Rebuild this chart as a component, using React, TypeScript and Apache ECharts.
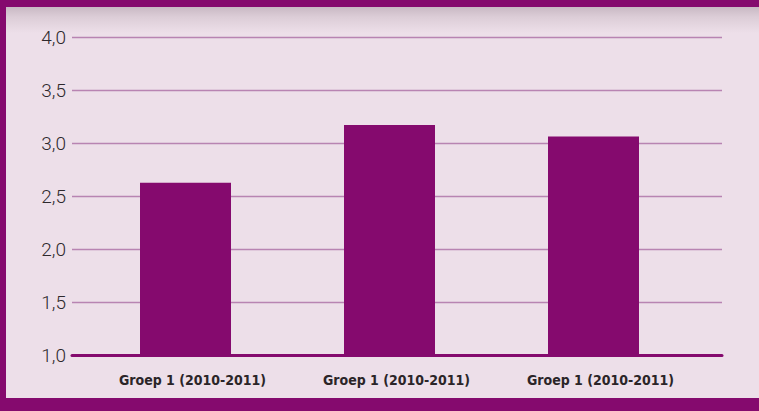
import React, { useEffect, useRef } from "react";
import * as echarts from "echarts";

const categories = ["Groep 1 (2010-2011)", "Groep 1 (2010-2011)", "Groep 1 (2010-2011)"];
const values = [2.63, 3.175, 3.065];
const yTicks = { min: 1, max: 4, interval: 0.5 };

const PURPLE = "#850A6E";
const BG = "#EDDFE9";

export default function App() {
  const ref = useRef<HTMLDivElement>(null);
  useEffect(() => {
    if (!ref.current) return;
    const chart = echarts.init(ref.current, null, { renderer: "svg" });
    chart.setOption({
      animation: false,
      grid: [
        { left: 72, right: 37, top: 37.5, bottom: 55.5, containLabel: false },
        { left: 83.5, right: 63.5, top: 37.5, bottom: 55.5, containLabel: false },
      ],
      xAxis: [
        {
          type: "category",
          gridIndex: 0,
          data: categories,
          axisLine: { show: true, lineStyle: { color: PURPLE, width: 3 } },
          axisTick: { show: false },
          axisLabel: { show: false },
          splitLine: { show: false },
          z: 10,
        },
        {
          type: "category",
          gridIndex: 1,
          data: categories,
          axisLine: { show: false },
          axisTick: { show: false },
          axisLabel: {
            show: true,
            fontFamily: "'Liberation Sans Narrow', 'DejaVu Sans Condensed', sans-serif",
            fontWeight: "bold",
            fontSize: 14,
            color: "#2B2528",
            margin: 17,
            padding: [0, 0, 0, 14],
          },
        },
      ],
      yAxis: [
        {
          type: "value",
          gridIndex: 0,
          min: yTicks.min,
          max: yTicks.max,
          interval: yTicks.interval,
          axisLine: { show: false },
          axisTick: { show: false },
          axisLabel: {
            fontFamily: "Roboto, 'Noto Sans', sans-serif",
            fontWeight: 300,
            fontSize: 19,
            color: "#2E292D",
            margin: 6,
            formatter: (v: number) => v.toFixed(1).replace(".", ","),
          },
          splitLine: { show: true, lineStyle: { color: "#B884B2", width: 1.3 } },
        },
        {
          type: "value",
          gridIndex: 1,
          min: yTicks.min,
          max: yTicks.max,
          interval: yTicks.interval,
          show: false,
          splitLine: { show: false },
        },
      ],
      series: [
        {
          type: "bar",
          xAxisIndex: 1,
          yAxisIndex: 1,
          data: values,
          barWidth: 91,
          itemStyle: { color: PURPLE },
          z: 2,
        },
      ],
    });
    return () => chart.dispose();
  }, []);

  return (
    <div style={{ position: "fixed", left: 0, top: 0, width: 759, height: 411, background: PURPLE, overflow: "hidden" }}>
      <div
        style={{
          position: "absolute",
          left: 6,
          top: 7,
          width: 753,
          height: 391,
          background: `linear-gradient(to bottom, #C9B9C4 0px, #DCCDD7 10px, ${BG} 26px, ${BG} 100%)`,
        }}
      />
      <div ref={ref} style={{ position: "absolute", left: 0, top: 0, width: 759, height: 411 }} />
    </div>
  );
}
